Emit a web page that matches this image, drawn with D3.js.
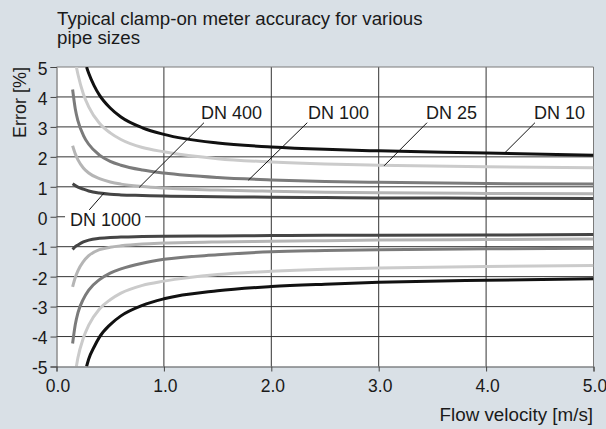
<!DOCTYPE html>
<html>
<head>
<meta charset="utf-8">
<script src="https://cdn.jsdelivr.net/npm/d3@7"></script>
<style>
  body { margin: 0; background: #d9e0e6; }
  svg { display: block; }
  text { font-family: "Liberation Sans", Arial, sans-serif; fill: #1a1a1a; }
</style>
</head>
<body>
<svg id="chart" width="606" height="429"></svg>
<script>
/* datos: error [%] vs velocidad [m/s] */
const velDN10 = [0.28, 0.3, 0.35, 0.4, 0.5, 0.6, 0.8, 1.0, 1.5, 2.0, 2.5, 3.0, 4.0, 5.0]
const dn10Up = [5.0, 4.79, 4.38, 4.06, 3.63, 3.33, 2.97, 2.75, 2.46, 2.33, 2.25, 2.2, 2.13, 2.05]
const dn10Lo = [-5.0, -4.75, -4.35, -4.02, -3.6, -3.31, -2.96, -2.74, -2.47, -2.33, -2.25, -2.19, -2.12, -2.07]

const velDN25 = [0.185, 0.2, 0.25, 0.3, 0.4, 0.5, 0.6, 0.8, 1.0, 1.5, 2.0, 2.5, 3.0, 4.0, 5.0]
const dn25Up = [5.0, 4.75, 4.1, 3.67, 3.12, 2.8, 2.58, 2.31, 2.17, 1.94, 1.83, 1.76, 1.72, 1.67, 1.64]
const dn25Lo = [-5.0, -4.7, -4.05, -3.62, -3.08, -2.77, -2.55, -2.29, -2.15, -1.93, -1.82, -1.75, -1.71, -1.66, -1.63]

const velSmall = [0.15, 0.175, 0.2, 0.25, 0.3, 0.4, 0.5, 0.6, 0.8, 1.0, 1.5, 2.0, 2.5, 3.0, 4.0, 5.0]
const dn100Up = [4.25, 3.6, 3.2, 2.72, 2.42, 2.06, 1.85, 1.72, 1.56, 1.46, 1.31, 1.23, 1.18, 1.15, 1.11, 1.09]
const dn100Lo = [-4.23, -3.6, -3.2, -2.75, -2.45, -2.1, -1.88, -1.74, -1.55, -1.42, -1.27, -1.17, -1.13, -1.1, -1.07, -1.05]
const dn400Up = [2.37, 2.1, 1.9, 1.63, 1.46, 1.27, 1.16, 1.09, 1.01, 0.96, 0.89, 0.85, 0.82, 0.8, 0.78, 0.77]
const dn400Lo = [-2.34, -2.03, -1.8, -1.5, -1.3, -1.1, -1.02, -0.97, -0.91, -0.88, -0.84, -0.82, -0.8, -0.78, -0.76, -0.74]
const dn1000Up = [1.1, 1.04, 0.99, 0.92, 0.86, 0.79, 0.75, 0.73, 0.71, 0.69, 0.67, 0.65, 0.64, 0.63, 0.62, 0.61]
const dn1000Lo = [-1.09, -1.0, -0.94, -0.84, -0.78, -0.72, -0.69, -0.68, -0.66, -0.65, -0.64, -0.63, -0.62, -0.62, -0.61, -0.59]

/* etiquetas DN: posición del texto y de la línea guía, en unidades del gráfico */
const labelNames = ["DN 10", "DN 25", "DN 100", "DN 400", "DN 1000"]
const labelV = [4.446, 3.44, 2.342, 1.345, 0.126]
const labelVal = [3.27, 3.27, 3.27, 3.27, -0.32]
const leaderFrom = [[4.455, 3.14], [3.45, 3.14], [2.335, 3.14], [1.373, 3.14], [0.305, 0.23]]
const leaderTo = [[4.17, 2.12], [3.05, 1.70], [1.786, 1.22], [0.77, 0.98], [0.442, 0.79]]

const xTicks = [0, 1, 2, 3, 4, 5]
const yTicks = [-5, -4, -3, -2, -1, 0, 1, 2, 3, 4, 5]
const titleLines = ["Typical clamp-on meter accuracy for various", "pipe sizes"]

/* series: pares de velocidad + valores, con su color */
const series = [
  { v: velDN10, e: dn10Up, color: "#111111" },
  { v: velDN10, e: dn10Lo, color: "#111111" },
  { v: velDN25, e: dn25Up, color: "#cbcbcb" },
  { v: velDN25, e: dn25Lo, color: "#cbcbcb" },
  { v: velSmall, e: dn100Up, color: "#7b7b7b" },
  { v: velSmall, e: dn100Lo, color: "#7b7b7b" },
  { v: velSmall, e: dn400Up, color: "#b5b5b5" },
  { v: velSmall, e: dn400Lo, color: "#b5b5b5" },
  { v: velSmall, e: dn1000Up, color: "#454545" },
  { v: velSmall, e: dn1000Lo, color: "#454545" }
]

const svg = d3.select('#chart')

const x = d3.scaleLinear().domain([0, 5]).range([56.5, 593.5])
const y = d3.scaleLinear().domain([-5, 5]).range([366.5, 67])

/* título */
svg.append('g').selectAll('text')
  .data(titleLines)
  .join('text')
  .attr('x', 57)
  .attr('y', (d, i) => 25 + i * 19)
  .style('font-size', '18.7px')
  .text(d => d)

/* fondo blanco del área */
svg.append('rect')
  .attr('x', x(0)).attr('y', y(5))
  .attr('width', x(5) - x(0)).attr('height', y(-5) - y(5))
  .attr('fill', '#fff')

/* rejilla */
const grid = svg.append('g').attr('stroke', '#333').attr('stroke-width', 1)
grid.selectAll('.gx').data(xTicks.slice(1, -1)).join('line')
  .attr('x1', d => x(d)).attr('x2', d => x(d))
  .attr('y1', y(5)).attr('y2', y(-5))
grid.selectAll('.gy').data(yTicks.slice(1, -1)).join('line')
  .attr('x1', x(0)).attr('x2', x(5))
  .attr('y1', d => y(d)).attr('y2', d => y(d))

/* marco */
svg.append('path')
  .attr('d', `M${x(0)},${y(5)}H${x(5)}V${y(-5)}`)
  .attr('fill', 'none').attr('stroke', '#7a7a7a')

/* curvas */
svg.append('clipPath').attr('id', 'clip')
  .append('rect')
  .attr('x', x(0)).attr('y', y(5))
  .attr('width', x(5) - x(0)).attr('height', y(-5) - y(5))

const line = d3.line()
  .x(d => x(d[0]))
  .y(d => y(d[1]))
  .curve(d3.curveMonotoneX)

svg.append('g').attr('clip-path', 'url(#clip)')
  .selectAll('path')
  .data(series)
  .join('path')
  .attr('d', s => line(s.v.map((v, i) => [v, s.e[i]])))
  .attr('fill', 'none')
  .attr('stroke', s => s.color)
  .attr('stroke-width', 3)
  .attr('stroke-linecap', 'butt')

/* etiquetas DN con fondo blanco y líneas guía */
const labels = svg.append('g')
labelNames.forEach((name, i) => {
  const g = labels.append('g')
  const bg = g.append('rect').attr('fill', '#fff')
  const t = g.append('text')
    .attr('x', x(labelV[i]))
    .attr('y', y(labelVal[i]))
    .style('font-size', '18px')
    .text(name)
  const b = t.node().getBBox()
  bg.attr('x', b.x - 5).attr('y', b.y + 2)
    .attr('width', b.width + 9).attr('height', b.height - 4)
  labels.append('line')
    .attr('x1', x(leaderFrom[i][0])).attr('y1', y(leaderFrom[i][1]))
    .attr('x2', x(leaderTo[i][0])).attr('y2', y(leaderTo[i][1]))
    .attr('stroke', '#111').attr('stroke-width', 1)
})

/* ejes: guion normal como signo menos, igual que el original */
const yAxis = svg.append('g')
  .attr('transform', `translate(${x(0)},0)`)
  .call(d3.axisLeft(y).tickValues(yTicks).tickSize(6).tickPadding(3).tickFormat(d => String(d)))
const xAxis = svg.append('g')
  .attr('transform', `translate(0,${y(-5)})`)
  .call(d3.axisBottom(x).tickValues(xTicks).tickSize(5).tickPadding(8).tickFormat(d => d.toFixed(1)))

svg.selectAll('.domain').attr('stroke', '#555')
svg.selectAll('.tick line').attr('stroke', '#444')
svg.selectAll('.tick text')
  .attr('fill', '#1a1a1a')
  .style('font-family', '"Liberation Sans", Arial, sans-serif')
  .style('font-size', '17.5px')
yAxis.selectAll('.tick text').attr('dy', '0.42em')
xAxis.selectAll('.tick text').attr('dx', 1)

/* títulos de ejes */
svg.append('text')
  .attr('x', 593)
  .attr('y', 421)
  .attr('text-anchor', 'end')
  .style('font-size', '18.8px')
  .text('Flow velocity [m/s]')

svg.append('text')
  .attr('transform', 'translate(26,67) rotate(-90)')
  .attr('text-anchor', 'end')
  .style('font-size', '18px')
  .text('Error [%]')
</script>
</body>
</html>
